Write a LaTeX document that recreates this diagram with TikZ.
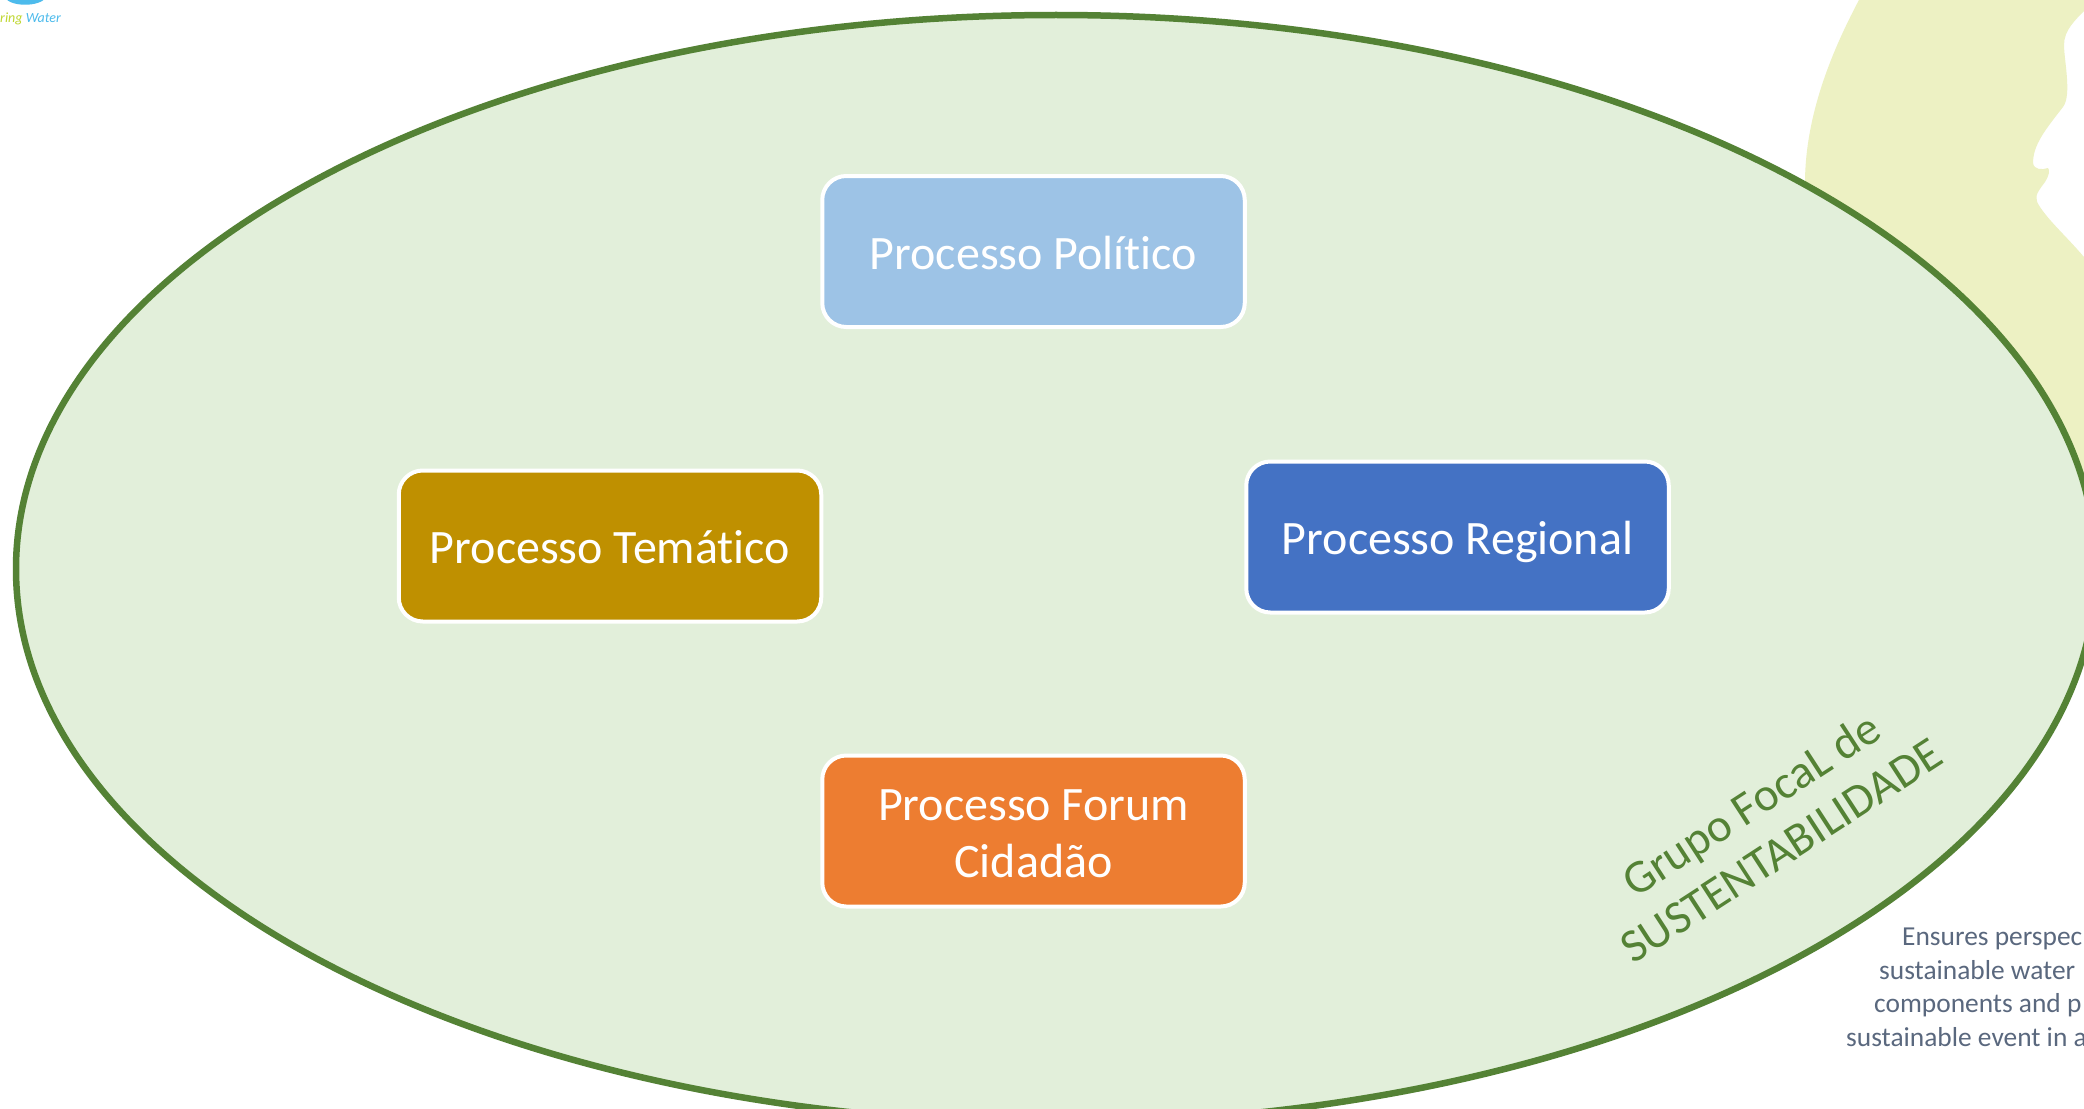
\documentclass[tikz,border=0pt]{standalone}
\usepackage{fontspec}
\setmainfont{Carlito}[RawFeature={-liga}]
\definecolor{ellfill}{HTML}{E2EFDA}
\definecolor{ellline}{HTML}{548235}
\definecolor{blob}{HTML}{EDF1C3}
\definecolor{slate}{HTML}{5A687E}
\definecolor{logoblue}{HTML}{4DBBEC}
\definecolor{logogreen}{HTML}{BFD730}
\definecolor{polblue}{HTML}{9DC3E6}
\definecolor{temgold}{HTML}{BF9000}
\definecolor{regblue}{HTML}{4472C4}
\definecolor{fororange}{HTML}{ED7D31}
\newcommand\boxstrut{\rule[-9.2pt]{0pt}{54.2pt}}
\tikzset{
  procbox/.style={draw=white,line width=4pt,rounded corners=24pt,minimum width=422.5pt,minimum height=151pt,
    inner sep=0pt,align=center,text=white,font=\fontsize{48}{57}\selectfont},
  focal/.style={text=ellline,rotate=33,align=center,inner sep=0pt,font=\fontsize{47}{55}\selectfont},
  note/.style={text=slate,anchor=base west,inner sep=0pt,font=\fontsize{27.4}{33}\selectfont},
}
\begin{document}
\begin{tikzpicture}[x=1pt,y=-1pt]
\useasboundingbox (0,0) rectangle (2084,1108);
\clip (0,0) rectangle (2084,1108);
\fill[white] (0,0) rectangle (2084,1108);
% background blob
\fill[blob] (1860,-2) .. controls (1835,45) and (1806,110) .. (1805,180) -- (1805,400) -- (2090,500) -- (2090,262)
  -- (2084,257) .. controls (2065,235) and (2050,222) .. (2040,207) .. controls (2034,198) and (2035,195) .. (2045,182)
  .. controls (2049,176) and (2050,170) .. (2048,168) .. controls (2042,170) and (2034,170) .. (2033,163)
  .. controls (2033,145) and (2045,130) .. (2063,107) .. controls (2072,95) and (2064,60) .. (2064,45)
  .. controls (2064,30) and (2075,20) .. (2090,5) -- (2090,-2) -- cycle;
% logo
\fill[logoblue] (5,-2) .. controls (12,7) and (38,7) .. (46,-2) -- cycle;
\node[anchor=base west,inner sep=0pt,font=\fontsize{14}{14}\itshape\selectfont] (logo) at (0,23)
  {\textcolor{logogreen}{ring} \textcolor{logoblue}{Water}};
% ellipse
\draw[fill=ellfill,draw=ellline,line width=6.5pt] (1056,569) ellipse [x radius=1040,y radius=554];
% process boxes
\node[procbox,fill=polblue] (pol) at (1033.5,251.5) {\boxstrut Processo Político};
\node[procbox,fill=temgold] (tem) at (610,546) {\boxstrut Processo Temático};
\node[procbox,fill=regblue] (reg) at (1457.5,537) {\boxstrut Processo Regional};
\node[procbox,fill=fororange] (for) at (1033.5,831) {\boxstrut Processo Forum\\\boxstrut Cidadão};
% rotated label
\node[focal] (foco) at (1766,827) {Grupo FocaL de\\SUSTENTABILIDADE};
% cropped note
\node[note] (n1) at (1902,945) {Ensures perspec};
\node[note] (n2) at (1879,979) {sustainable water};
\node[note] (n3) at (1874,1012) {components and p};
\node[note] (n4) at (1846,1046) {sustainable event in a};
\end{tikzpicture}
\end{document}
